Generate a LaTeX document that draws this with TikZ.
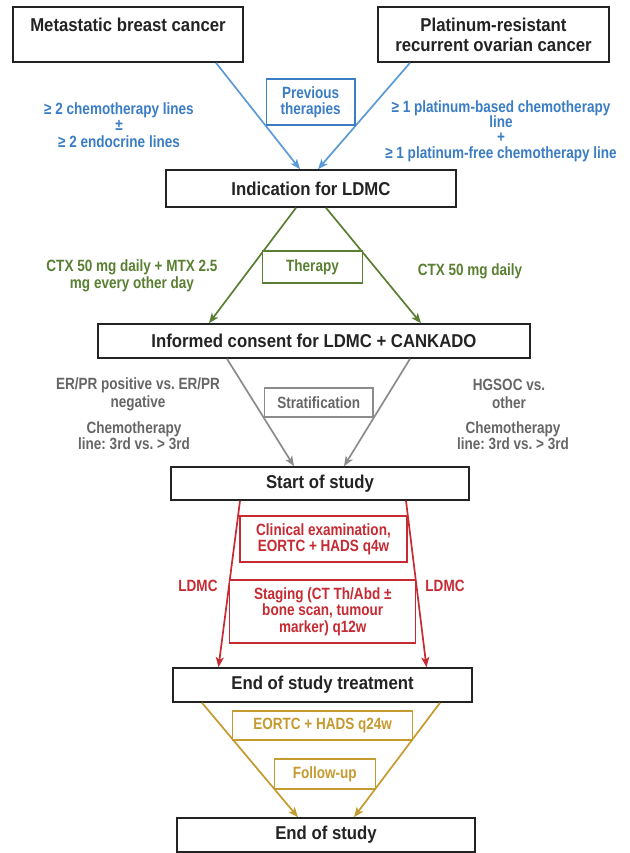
\documentclass[tikz,border=0pt]{standalone}
\usepackage{fontspec}
\setmainfont{Liberation Sans}
\newfontfamily\titlefont{Liberation Sans}[FakeStretch=0.9]
\newfontfamily\labfont{Liberation Sans}[FakeStretch=0.83]
\usetikzlibrary{arrows.meta,calc}
\definecolor{boxblack}{HTML}{232323}
\definecolor{blueline}{HTML}{5B9BD5}
\definecolor{bluetext}{HTML}{3B7DC4}
\definecolor{greenc}{HTML}{5A7F32}
\definecolor{grayline}{HTML}{8C8C8C}
\definecolor{graytext}{HTML}{666666}
\definecolor{redc}{HTML}{C62A32}
\definecolor{goldc}{HTML}{C59A2E}
\frenchspacing
\begin{document}
\begin{tikzpicture}[x=1pt,y=-1pt,
  mainbox/.style={draw=boxblack, line width=1.6pt, inner sep=0pt, align=center, text=boxblack,
    font=\titlefont\bfseries\fontsize{18.6}{20}\selectfont},
  subbox/.style={draw, line width=1.4pt, inner sep=0pt, align=center,
    font=\labfont\bfseries\fontsize{16.3}{16}\selectfont},
  lab/.style={inner sep=0pt, align=center, font=\labfont\bfseries\fontsize{16.3}{15.5}\selectfont},
  arr/.style={line width=1.7pt, -{Stealth[length=10pt,width=8pt,inset=2.5pt]}}
]
\useasboundingbox (0,0) rectangle (629,853);
\fill[white] (0,0) rectangle (629,853);

% main boxes
\node[mainbox, minimum width=230pt, minimum height=55pt] (mbc) at (128,34.5) {Metastatic breast cancer\\\phantom{X}};
\node[mainbox, minimum width=231pt, minimum height=55pt] (prroc) at (493.5,34.5) {Platinum-resistant\\recurrent ovarian cancer};
\node[mainbox, minimum width=290pt, minimum height=37pt] (ind) at (311,188.5) {Indication for LDMC};
\node[mainbox, minimum width=432pt, minimum height=34pt] (ic) at (314,341) {Informed consent for LDMC + CANKADO};
\node[mainbox, minimum width=298pt, minimum height=33pt] (sos) at (320,483.5) {Start of study};
\node[mainbox, minimum width=299pt, minimum height=34pt] (eost) at (322.5,685) {End of study treatment};
\node[mainbox, minimum width=298pt, minimum height=34pt] (eos) at (326,835) {End of study};

% blue section
\draw[arr, blueline] ([xshift=88pt]mbc.south) -- ([xshift=-11pt]ind.north);
\draw[arr, blueline] ([xshift=-83.5pt]prroc.south) -- ([xshift=7pt]ind.north);
\node[subbox, draw=bluetext, text=bluetext, fill=white, minimum width=88.4pt, minimum height=46pt] (prev) at (310.6,102) {Previous\\therapies};
\node[lab, text=bluetext, font=\labfont\bfseries\fontsize{16.3}{16.5}\selectfont] (bl) at (119,125) {≥ 2 chemotherapy lines\\±\\≥ 2 endocrine lines};
\node[lab, text=bluetext, font=\labfont\bfseries\fontsize{16.3}{15.3}\selectfont] (br) at (501,131) {≥ 1 platinum-based chemotherapy\\line\\+\\≥ 1 platinum-free chemotherapy line};

% green section
\draw[arr, greenc] ([xshift=-15pt]ind.south) -- ([xshift=-105pt]ic.north);
\draw[arr, greenc] ([xshift=15pt]ind.south) -- ([xshift=107pt]ic.north);
\node[subbox, draw=greenc, text=greenc, fill=white, minimum width=100.3pt, minimum height=32pt] (ther) at (312.5,267) {Therapy};
\node[lab, text=greenc, font=\labfont\bfseries\fontsize{16.3}{17}\selectfont] (gl) at (132,275.5) {CTX 50 mg daily + MTX 2.5\\mg every other day};
\node[lab, text=greenc] (gr) at (470,271) {CTX 50 mg daily};

% gray section
\draw[arr, grayline] ([xshift=-87pt]ic.south) -- ([xshift=-26pt]sos.north);
\draw[arr, grayline] ([xshift=96pt]ic.south) -- ([xshift=24pt]sos.north);
\node[subbox, draw=grayline, text=graytext, fill=white, minimum width=108.3pt, minimum height=29pt] (strat) at (318.75,402.5) {Stratification};
\node[lab, text=graytext, font=\labfont\bfseries\fontsize{16.3}{18}\selectfont] (gyl1) at (138,394) {ER/PR positive vs. ER/PR\\negative};
\node[lab, text=graytext, font=\labfont\bfseries\fontsize{16.3}{16}\selectfont] (gyl2) at (134,436) {Chemotherapy\\line: 3rd vs. > 3rd};
\node[lab, text=graytext, font=\labfont\bfseries\fontsize{16.3}{18}\selectfont] (gyr1) at (509,394) {HGSOC vs.\\other};
\node[lab, text=graytext, font=\labfont\bfseries\fontsize{16.3}{16}\selectfont] (gyr2) at (513,436) {Chemotherapy\\line: 3rd vs. > 3rd};

% red section
\draw[arr, redc] ([xshift=-80pt]sos.south) -- ([xshift=-104pt]eost.north);
\draw[arr, redc] ([xshift=86pt]sos.south) -- ([xshift=104pt]eost.north);
\node[subbox, draw=redc, text=redc, fill=white, minimum width=167pt, minimum height=46pt] (clin) at (323.5,539) {Clinical examination,\\EORTC + HADS q4w};
\node[subbox, draw=redc, text=redc, fill=white, minimum width=186pt, minimum height=63pt, font=\labfont\bfseries\fontsize{16.3}{16.5}\selectfont] (stag) at (322.75,611.5) {Staging (CT Th/Abd ±\\bone scan, tumour\\marker) q12w};
\node[lab, text=redc] (ll) at (198,586) {LDMC};
\node[lab, text=redc] (lr) at (445,586) {LDMC};

% gold section
\draw[arr, goldc] ([xshift=-120.5pt]eost.south) -- ([xshift=-28pt]eos.north);
\draw[arr, goldc] ([xshift=117.5pt]eost.south) -- ([xshift=28pt]eos.north);
\node[subbox, draw=goldc, text=goldc, fill=white, minimum width=180pt, minimum height=29pt] (eortc) at (322.6,725.5) {EORTC + HADS q24w};
\node[subbox, draw=goldc, text=goldc, fill=white, minimum width=101pt, minimum height=30pt] (fu) at (324.75,774) {Follow-up};
\end{tikzpicture}
\end{document}
